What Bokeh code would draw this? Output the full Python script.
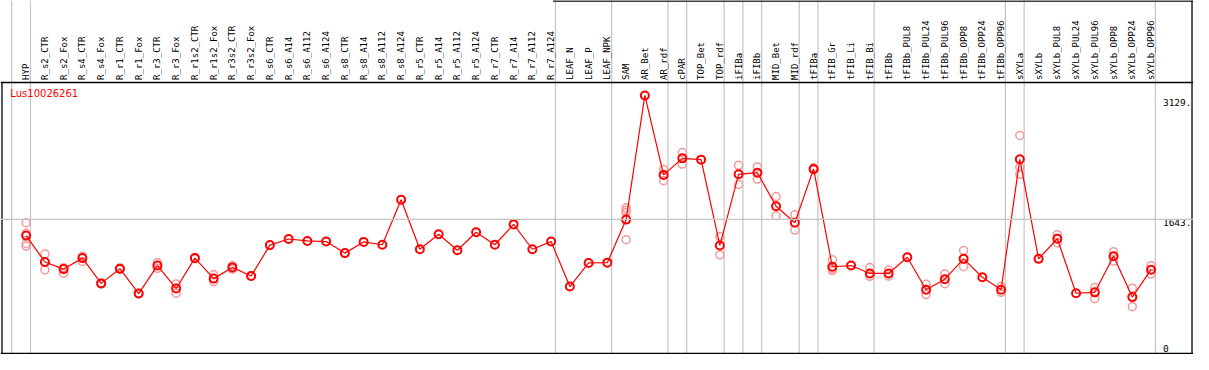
import math
from bokeh.plotting import figure
from bokeh.models import Range1d, Span, ColumnDataSource
from bokeh.core.properties import value
from bokeh.embed import file_html
from bokeh.resources import INLINE

gene_id = "Lus10026261"

categories = [
    "HYP", "R_s2_CTR", "R_s2_Fox", "R_s4_CTR", "R_s4_Fox", "R_r1_CTR", "R_r1_Fox",
    "R_r3_CTR", "R_r3_Fox", "R_r1s2_CTR", "R_r1s2_Fox", "R_r3s2_CTR", "R_r3s2_Fox",
    "R_s6_CTR", "R_s6_A14", "R_s6_A112", "R_s6_A124", "R_s8_CTR", "R_s8_A14",
    "R_s8_A112", "R_s8_A124", "R_r5_CTR", "R_r5_A14", "R_r5_A112", "R_r5_A124",
    "R_r7_CTR", "R_r7_A14", "R_r7_A112", "R_r7_A124", "LEAF_N", "LEAF_P", "LEAF_NPK",
    "SAM", "AR_Bet", "AR_rdf", "cPAR", "TOP_Bet", "TOP_rdf", "iFIBa", "iFIBb",
    "MID_Bet", "MID_rdf", "tFIBa", "tFIB_Gr", "tFIB_Li", "tFIB_Bi", "tFIBb",
    "tFIBb_PUL8", "tFIBb_PUL24", "tFIBb_PUL96", "tFIBb_OPP8", "tFIBb_OPP24",
    "tFIBb_OPP96", "sXYLa", "sXYLb", "sXYLb_PUL8", "sXYLb_PUL24", "sXYLb_PUL96",
    "sXYLb_OPP8", "sXYLb_OPP24", "sXYLb_OPP96",
]

means = [
    1441, 1114, 1026, 1162, 849, 1031, 723, 1070, 786, 1162, 908, 1047, 940,
    1323, 1399, 1375, 1367, 1224, 1363, 1328, 1885, 1272, 1458, 1260, 1482,
    1328, 1580, 1272, 1367, 810, 1102, 1106,
    1639, 3177, 2193, 2398, 2382, 1319, 2200, 2220, 1805, 1600, 2267,
    1055, 1070, 972, 972, 1173, 770, 901, 1153, 925, 770,
    2386, 1153, 1402, 727, 738, 1185, 679, 1019,
]

rep_names = [
    "HYP", "HYP", "HYP", "HYP",
    "R_s2_CTR", "R_s2_CTR", "R_s2_Fox", "R_s2_Fox", "R_s4_CTR", "R_s4_CTR",
    "R_s4_Fox", "R_s4_Fox", "R_r1_CTR", "R_r1_CTR", "R_r1_Fox", "R_r1_Fox",
    "R_r3_CTR", "R_r3_CTR", "R_r3_Fox", "R_r3_Fox", "R_r1s2_CTR", "R_r1s2_CTR",
    "R_r1s2_Fox", "R_r1s2_Fox", "R_r3s2_CTR", "R_r3s2_CTR", "R_r3s2_Fox", "R_r3s2_Fox",
    "SAM", "SAM", "SAM", "SAM",
    "AR_rdf", "AR_rdf", "cPAR", "cPAR", "TOP_rdf", "TOP_rdf",
    "iFIBa", "iFIBa", "iFIBb", "iFIBb", "MID_Bet", "MID_Bet", "MID_rdf", "MID_rdf",
    "tFIBa", "tFIBa", "tFIB_Gr", "tFIB_Gr", "tFIB_Gr", "tFIB_Bi", "tFIB_Bi",
    "tFIBb", "tFIBb", "tFIBb_PUL24", "tFIBb_PUL24", "tFIBb_PUL96", "tFIBb_PUL96",
    "tFIBb_OPP8", "tFIBb_OPP8", "tFIBb_OPP96", "tFIBb_OPP96",
    "sXYLa", "sXYLa", "sXYLa", "sXYLb_PUL8", "sXYLb_PUL8",
    "sXYLb_PUL96", "sXYLb_PUL96", "sXYLb_OPP8", "sXYLb_OPP8",
    "sXYLb_OPP24", "sXYLb_OPP24", "sXYLb_OPP96", "sXYLb_OPP96",
]
rep_values = [
    1601, 1470, 1343, 1311,
    1213, 1015, 1043, 975, 1185, 1121,
    855, 843, 1040, 1022, 728, 718,
    1106, 1035, 842, 727, 1170, 1154,
    955, 872, 1070, 1026, 945, 935,
    1785, 1754, 1726, 1390,
    2259, 2122, 2469, 2327, 1429, 1201,
    2311, 2074, 2291, 2141, 1924, 1687, 1699, 1509,
    2280, 2255, 1141, 1032, 1008, 1047, 936,
    1015, 940, 837, 711, 964, 845,
    1256, 1055, 810, 738,
    2682, 2288, 2200, 1453, 1351,
    798, 659, 1240, 1126,
    789, 561, 1067, 964,
]

# last category (1-based) of each group; 0 marks the left edge
group_ends = [0, 1, 29, 32, 35, 36, 38, 39, 40, 42, 43, 46, 53, 54, 61]

tick_values = [3129, 1643, 0]
tick_labels = ["3129.", "1643.", "0"]
tick_baselines = ["top", "top", "bottom"]

# ---- layout (reference pixel -> data helpers) ----
W, H = 1193, 354
REF_W, REF_H = 1209, 370
X0, DX = 7.0, 19.0
Y0, SY = 367.3, 0.08437


def ix(px):
    return (px - X0) / DX


def vy(py):
    return (Y0 - py) / SY


xs = list(range(1, len(categories) + 1))
pos = {c: i for c, i in zip(categories, xs)}
rep_x = [pos[n] for n in rep_names]

p = figure(width=W, height=H, output_backend="svg", toolbar_location=None,
           x_range=Range1d(ix(0), ix(REF_W)), y_range=Range1d(vy(REF_H), vy(0)),
           x_axis_location=None, y_axis_location=None, min_border=0)
p.grid.visible = False
p.outline_line_color = None
p.background_fill_color = "white"
p.border_fill_color = "white"

grey = "#c4c4c4"
gx = [g + 0.23 for g in group_ends]
p.segment(x0=gx, y0=[vy(369)] * len(gx), x1=gx, y1=[vy(0)] * len(gx),
          line_color=grey, line_width=1.2)
p.add_layout(Span(location=tick_values[1], dimension="width", line_color=grey, line_width=1.2))

# frame
p.segment(x0=[ix(0), ix(1.5), ix(0), ix(1207.5), ix(560)],
          y0=[vy(85.7), vy(85.7), vy(368.8), vy(0), vy(0.5)],
          x1=[ix(1209), ix(1.5), ix(1209), ix(1207.5), ix(1209)],
          y1=[vy(85.7), vy(369), vy(368.8), vy(369), vy(0.5)],
          line_color="black", line_width=1.3)

# category labels
p.text(x=xs, y=[vy(83)] * len(xs), text=categories, angle=math.pi / 2,
       text_align="left", text_baseline="middle",
       text_font=value("DejaVu Sans Mono"), text_font_size="9px", text_color="black")

# gene id
p.text(x=[ix(10)], y=[vy(97)], text=[gene_id], text_align="left", text_baseline="middle",
       text_font=value("DejaVu Sans"), text_font_size="10px", text_color="red")

# right value labels
p.text(x=[ix(1178)] * 3, y=tick_values, text=tick_labels, text_align="left",
       text_baseline=tick_baselines, text_font=value("DejaVu Sans Mono"),
       text_font_size="9.5px", text_color="black")

# replicates
p.scatter(x=rep_x, y=rep_values, marker="circle", size=8, fill_color=None,
          line_color="#f29a9a", line_width=1.5)
# mean line + points
p.line(x=xs, y=means, line_color="red", line_width=1.2)
p.scatter(x=xs, y=means, marker="circle", size=8, fill_color=None,
          line_color="red", line_width=2)

open("out.html", "w").write(file_html(p, INLINE))
